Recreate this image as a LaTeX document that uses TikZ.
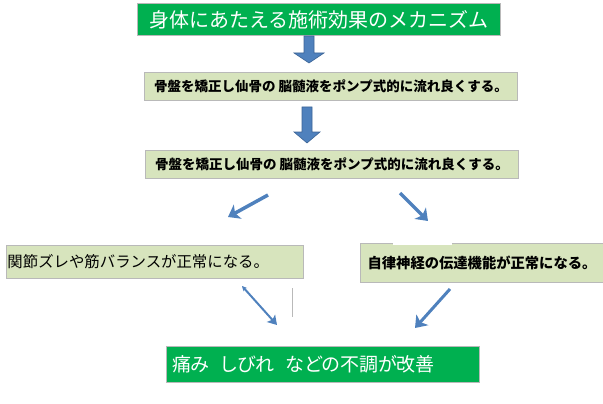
\documentclass[tikz,border=0pt]{standalone}
\usepackage{fontspec}
\setmainfont{Noto Sans CJK JP}
\newfontfamily\proportional[RawFeature=+palt]{Noto Sans CJK JP}
\usetikzlibrary{arrows.meta,calc}
\definecolor{boxgreen}{RGB}{215,228,189}
\definecolor{titlegreen}{RGB}{0,176,80}
\definecolor{arrowblue}{RGB}{79,129,189}
\definecolor{arrowdark}{RGB}{60,100,150}
\definecolor{bordergray}{RGB}{185,185,185}
\begin{document}
\begin{tikzpicture}[x=1pt,y=-1pt,
  lightbox/.style={draw=bordergray, line width=1pt, fill=boxgreen, inner sep=0pt, text=black},
  greenbox/.style={draw=bordergray, line width=1pt, fill=titlegreen, inner sep=0pt, text=white},
  blockarrow/.style={fill=arrowblue, draw=arrowdark, line width=0.6pt},
  diagarrow/.style={draw=arrowblue, line width=3.5pt, -{Stealth[length=11pt,width=16pt,inset=3pt]}},
  thinarrow/.style={draw=arrowblue, line width=2pt, {Stealth[length=5pt,width=5pt]}-{Stealth[length=9pt,width=11pt,inset=2pt]}}
]
\useasboundingbox (0,0) rectangle (603,404);

% title
\node[greenbox, minimum width=363pt, minimum height=32pt, anchor=north west, font=\fontsize{20}{22}\selectfont] (title) at (137,3) {身体にあたえる施術効果のメカニズム};

% block arrow 1
\coordinate (a1) at (309,36);
\fill[blockarrow] ($(a1)+(-5,0)$) -- ($(a1)+(5,0)$) -- ($(a1)+(5,17)$) -- ($(a1)+(15,17)$) -- ($(a1)+(0,27)$) -- ($(a1)+(-15,17)$) -- ($(a1)+(-5,17)$) -- cycle;

% box 2
\node[lightbox, minimum width=373pt, minimum height=28pt, anchor=north west, font=\fontsize{13.5}{15}\selectfont\bfseries] (b2) at (144,72) {骨盤を矯正し仙骨の 脳髄液をポンプ式的に流れ良くする。};

% block arrow 2
\coordinate (a2) at (307,107);
\fill[blockarrow] ($(a2)+(-5,0)$) -- ($(a2)+(5,0)$) -- ($(a2)+(5,25)$) -- ($(a2)+(13,25)$) -- ($(a2)+(0,36)$) -- ($(a2)+(-13,25)$) -- ($(a2)+(-5,25)$) -- cycle;

% box 3
\node[lightbox, minimum width=373pt, minimum height=28pt, anchor=north west, font=\fontsize{13.5}{15}\selectfont\bfseries] (b3) at (145,150) {骨盤を矯正し仙骨の 脳髄液をポンプ式的に流れ良くする。};

% left box
\node[lightbox, minimum width=297pt, minimum height=33pt, anchor=north west, text width=295pt, align=left, inner xsep=1pt, font=\fontsize{15.4}{17}\selectfont] (bl) at (6,245) {関節ズレや筋バランスが正常になる。};

% right box
\node[lightbox, minimum width=243pt, minimum height=39pt, anchor=north west, font=\fontsize{14.3}{16}\selectfont\bfseries] (br) at (360,243) {自律神経の伝達機能が正常になる。};
\fill[white] (393,241) rectangle (452,244.5);

% bottom box
\node[greenbox, minimum width=313pt, minimum height=36pt, anchor=north west, text width=302pt, align=left, inner xsep=5.5pt, font=\proportional\fontsize{19}{21}\selectfont] (bot) at (166,346) {痛み\hspace{0.6em}しびれ\hspace{0.6em}などの不調が改善};

% diagonal arrows
\coordinate (d1s) at (268,195);
\coordinate (d1e) at (228,217);
\coordinate (d2s) at (400,193);
\coordinate (d2e) at (428,221);
\draw[diagarrow] (d1s) -- (d1e);
\draw[diagarrow] (d2s) -- (d2e);

\coordinate (d3s) at (242,286);
\coordinate (d3e) at (277,325);
\coordinate (d4s) at (450,289);
\coordinate (d4e) at (415,328);
\draw[thinarrow] (d3s) -- (d3e);
\draw[diagarrow, line width=3pt] (d4s) -- (d4e);

% thin gray mark
\coordinate (g1) at (292,288);
\coordinate (g2) at (292,317);
\draw[bordergray, line width=0.8pt] (g1) -- (g2);
\end{tikzpicture}
\end{document}
